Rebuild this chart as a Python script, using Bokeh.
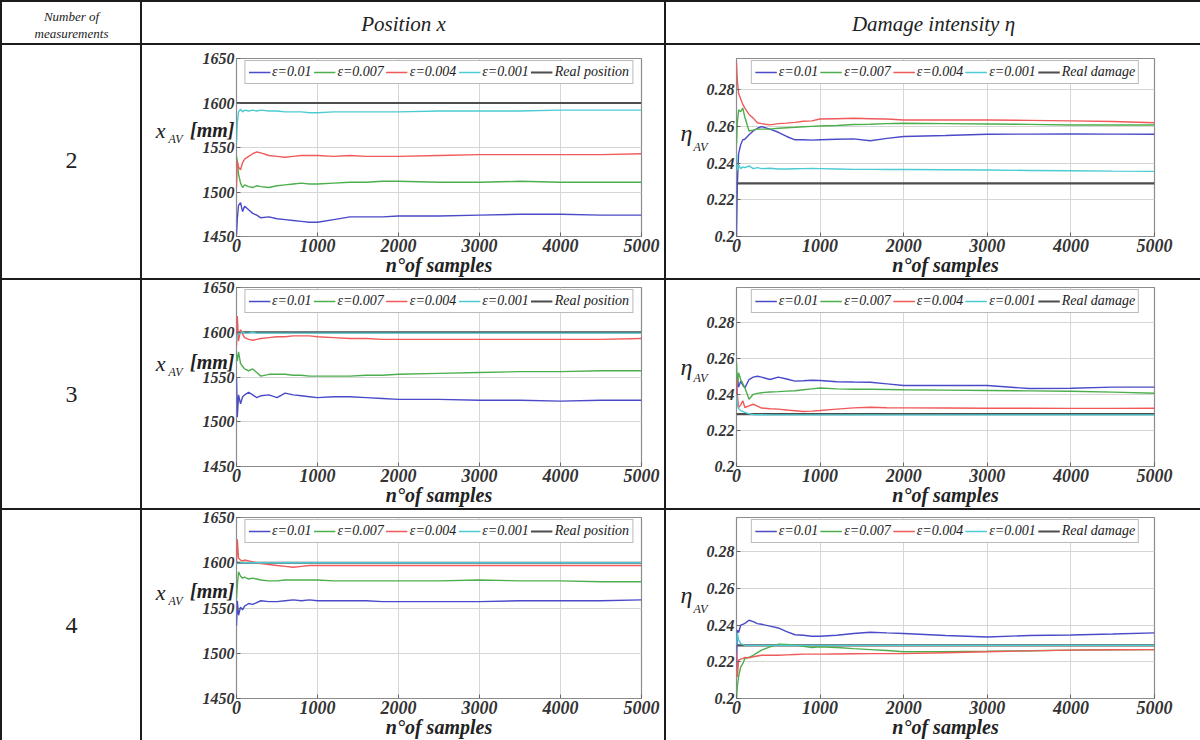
from bokeh.plotting import figure
from bokeh.layouts import row, column
from bokeh.models import (Range1d, FixedTicker, NumeralTickFormatter, LinearAxis,
                          Legend, LegendItem, Spacer)
from bokeh.core.properties import value
from bokeh.embed import file_html
from bokeh.resources import INLINE

# ---------------- data ----------------
SAMPLES = [0, 10, 25, 50, 75, 100, 150, 200, 250, 300, 400, 500, 600, 700, 800,
           900, 1000, 1200, 1400, 1600, 1800, 2000, 2500, 3000, 3500, 4000, 4500, 5000]
X_TICKS = [0, 1000, 2000, 3000, 4000, 5000]
POS_TICKS = [1450, 1500, 1550, 1600, 1650]
DMG_TICKS = [0.2, 0.22, 0.24, 0.26, 0.28]
EPS_LABELS = ["\u03b5=0.01", "\u03b5=0.007", "\u03b5=0.004", "\u03b5=0.001"]
MEASUREMENTS = ["2", "3", "4"]
HEADERS = ["Position x", "Damage intensity \u03b7"]
REAL_POSITION = 1600
REAL_DAMAGE = 0.229

# 2 measurements - position
POS2_E010 = [1452, 1470, 1485, 1488, 1478, 1484, 1480, 1476, 1474, 1471, 1472, 1470, 1469, 1468, 1467,
             1466, 1466, 1469, 1472, 1472, 1472, 1473, 1473, 1474, 1475, 1475, 1474, 1474]
POS2_E007 = [1540, 1535, 1520, 1510, 1505, 1508, 1506, 1505, 1507, 1506, 1505, 1507, 1508, 1509, 1510,
             1509, 1509, 1510, 1511, 1511, 1512, 1512, 1511, 1511, 1512, 1511, 1511, 1511]
POS2_E004 = [1505, 1535, 1528, 1525, 1533, 1537, 1540, 1543, 1545, 1544, 1541, 1540, 1539, 1540, 1541,
             1541, 1541, 1540, 1541, 1540, 1540, 1540, 1541, 1542, 1542, 1542, 1542, 1543]
POS2_E001 = [1555, 1578, 1590, 1593, 1590, 1592, 1591, 1592, 1591, 1592, 1591, 1591, 1590, 1590, 1590,
             1589, 1589, 1590, 1590, 1590, 1590, 1590, 1591, 1591, 1591, 1592, 1592, 1592]
# 2 measurements - damage
DMG2_E010 = [0.200, 0.228, 0.245, 0.250, 0.2527, 0.253, 0.2554, 0.2575, 0.259, 0.2599, 0.2585, 0.2568,
             0.2545, 0.2527, 0.2527, 0.2525, 0.2527, 0.2530, 0.2532, 0.2522, 0.2535, 0.2545, 0.2550,
             0.2557, 0.2558, 0.2559, 0.2558, 0.2557]
DMG2_E007 = [0.250, 0.262, 0.269, 0.268, 0.270, 0.265, 0.2575, 0.258, 0.2585, 0.2585, 0.2585, 0.259,
             0.2593, 0.2595, 0.2598, 0.2600, 0.2602, 0.2605, 0.2610, 0.2612, 0.2615, 0.2617, 0.2615,
             0.2613, 0.2611, 0.2608, 0.2608, 0.2608]
DMG2_E004 = [0.295, 0.285, 0.278, 0.275, 0.272, 0.270, 0.2665, 0.2645, 0.262, 0.2615, 0.2608, 0.2615,
             0.2618, 0.2622, 0.2628, 0.263, 0.264, 0.2642, 0.2644, 0.2642, 0.264, 0.2635, 0.2635,
             0.2635, 0.2633, 0.263, 0.2627, 0.262]
DMG2_E001 = [0.245, 0.236, 0.239, 0.237, 0.238, 0.2375, 0.2385, 0.237, 0.2375, 0.237, 0.2372, 0.2368,
             0.2368, 0.2369, 0.2370, 0.2371, 0.2370, 0.2368, 0.2366, 0.2366, 0.2365, 0.2365, 0.2364,
             0.2362, 0.2360, 0.2358, 0.2356, 0.2355]
# 3 measurements - position
POS3_E010 = [1550, 1505, 1530, 1520, 1528, 1530, 1533, 1530, 1527, 1529, 1530, 1527, 1532, 1530, 1529,
             1528, 1527, 1528, 1528, 1527, 1526, 1525, 1525, 1524, 1524, 1523, 1524, 1524]
POS3_E007 = [1575, 1568, 1578, 1565, 1562, 1559, 1557, 1559, 1555, 1551, 1553, 1553, 1553, 1552, 1552,
             1551, 1551, 1551, 1551, 1552, 1552, 1553, 1554, 1555, 1556, 1556, 1557, 1557]
POS3_E004 = [1585, 1618, 1590, 1603, 1598, 1594, 1592, 1591, 1592, 1593, 1594, 1595, 1595, 1596, 1596,
             1596, 1595, 1594, 1593, 1593, 1592, 1592, 1592, 1592, 1592, 1592, 1592, 1593]
POS3_E001 = [1590, 1596, 1598, 1599, 1600, 1599, 1599, 1600, 1599, 1599, 1599, 1599, 1599, 1599, 1599,
             1599, 1599, 1599, 1599, 1599, 1599, 1599, 1599, 1599, 1599, 1599, 1599, 1599]
# 3 measurements - damage
DMG3_E010 = [0.240, 0.250, 0.244, 0.2473, 0.245, 0.2436, 0.2482, 0.2495, 0.250, 0.2495, 0.2482, 0.2495,
             0.2485, 0.2473, 0.2475, 0.2478, 0.2477, 0.2470, 0.2468, 0.2467, 0.2458, 0.2449, 0.2449,
             0.2449, 0.2432, 0.2434, 0.2440, 0.2440]
DMG3_E007 = [0.258, 0.245, 0.252, 0.2482, 0.246, 0.2436, 0.2373, 0.240, 0.2405, 0.2409, 0.2413, 0.2415,
             0.2418, 0.242, 0.2425, 0.243, 0.2435, 0.243, 0.2428, 0.2428, 0.2427, 0.2425, 0.2423,
             0.2421, 0.2419, 0.2417, 0.2412, 0.2406]
DMG3_E004 = [0.249, 0.240, 0.2327, 0.234, 0.2364, 0.2327, 0.2336, 0.2345, 0.2335, 0.2324, 0.232, 0.2318,
             0.2313, 0.2309, 0.2305, 0.2307, 0.2310, 0.2318, 0.2325, 0.2328, 0.2326, 0.2325, 0.2324,
             0.2323, 0.2323, 0.2322, 0.2322, 0.2323]
DMG3_E001 = [0.240, 0.2345, 0.232, 0.231, 0.2305, 0.2300, 0.2292, 0.2288, 0.2287, 0.2287, 0.2286, 0.2286,
             0.2286, 0.2286, 0.2286, 0.2286, 0.2286, 0.2286, 0.2286, 0.2286, 0.2286, 0.2286, 0.2286,
             0.2286, 0.2286, 0.2286, 0.2286, 0.2286]
# 4 measurements - position
POS4_E010 = [1530, 1558, 1542, 1551, 1548, 1552, 1555, 1554, 1556, 1558, 1557, 1557, 1558, 1559, 1558,
             1559, 1558, 1558, 1558, 1558, 1557, 1557, 1557, 1557, 1558, 1558, 1558, 1559]
POS4_E007 = [1560, 1575, 1590, 1585, 1583, 1584, 1582, 1583, 1582, 1581, 1580, 1580, 1581, 1581, 1581,
             1581, 1581, 1580, 1580, 1580, 1580, 1580, 1580, 1581, 1580, 1580, 1579, 1579]
POS4_E004 = [1600, 1626, 1605, 1603, 1602, 1603, 1602, 1601, 1600, 1599, 1598, 1597, 1596, 1595, 1596,
             1597, 1597, 1597, 1597, 1597, 1597, 1597, 1597, 1597, 1597, 1597, 1597, 1597]
POS4_E001 = [1598, 1601, 1600, 1600, 1600, 1600, 1600, 1600, 1600, 1600, 1600, 1600, 1600, 1600, 1600,
             1600, 1600, 1600, 1600, 1600, 1600, 1600, 1600, 1600, 1600, 1600, 1600, 1600]
# 4 measurements - damage
DMG4_E010 = [0.217, 0.2373, 0.236, 0.240, 0.2405, 0.241, 0.2427, 0.242, 0.2409, 0.2405, 0.2395, 0.2385,
             0.2365, 0.2348, 0.2345, 0.234, 0.234, 0.2345, 0.2355, 0.2362, 0.2358, 0.2355, 0.2344,
             0.2336, 0.2344, 0.2347, 0.2352, 0.2358]
DMG4_E007 = [0.200, 0.2064, 0.212, 0.2173, 0.219, 0.2218, 0.2225, 0.2236, 0.225, 0.2264, 0.2282, 0.2296,
             0.2295, 0.2291, 0.2285, 0.2278, 0.2282, 0.2278, 0.2272, 0.2267, 0.2262, 0.2255, 0.2256,
             0.2258, 0.2261, 0.2264, 0.2266, 0.2267]
DMG4_E004 = [0.2255, 0.2118, 0.2209, 0.2215, 0.2218, 0.2224, 0.2222, 0.2228, 0.2232, 0.2236, 0.2236,
             0.2236, 0.2238, 0.224, 0.2242, 0.2242, 0.2242, 0.2243, 0.2244, 0.2245, 0.2245, 0.2245,
             0.225, 0.2255, 0.226, 0.2264, 0.2266, 0.2267]
DMG4_E001 = [0.229, 0.2358, 0.232, 0.230, 0.2295, 0.229, 0.229, 0.229, 0.229, 0.229, 0.229, 0.229,
             0.229, 0.229, 0.229, 0.229, 0.229, 0.229, 0.229, 0.229, 0.229, 0.229, 0.229, 0.229,
             0.229, 0.229, 0.229, 0.229]

# ---------------- style / layout ----------------
SERIF = "Liberation Serif"
COLORS = ["#4a4ac8", "#4cae4c", "#f05a5a", "#4ccbd3"]
REAL_COLOR = "#4d4d4d"
INK = "#222222"
BORDER = "#1c1c1c"
WHITE_BG = {"background-color": "white"}

COL_W = [138, 522, 534]
ROW_H = [41, 233, 228, 230]
ROW_TB = [(13, 40), (7, 42), (7, 42)]          # frame top / bottom border per row
POS_LR = (94, 23)
DMG_LR = (70, 46)
POS_RANGE = (1450, 1650)
DMG_RANGES = [(0.2, 0.297), (0.2, 0.2992), (0.2, 0.2988)]
# y-label anchor values (data units): x, AV, [mm]  /  eta, AV
POS_LABEL_Y = [(1569, 1560, 1570), (1565, 1556, 1567), (1567, 1558, 1569)]
DMG_LABEL_Y = [(0.2563, 0.249), (0.2553, 0.2489), (0.2563, 0.249)]


def text_cell(w, h, items, top=0, bottom=0):
    p = figure(width=w, height=h, x_range=Range1d(0, w), y_range=Range1d(h - bottom, top),
               toolbar_location=None, output_backend="svg",
               min_border_left=0, min_border_right=0,
               min_border_top=top, min_border_bottom=bottom,
               x_axis_type=None, y_axis_type=None, styles=WHITE_BG)
    p.outline_line_color = None
    p.border_fill_color = "white"
    p.background_fill_color = "white"
    for txt, x, y, size, style in items:
        p.text(x=[x], y=[y], text=[txt], text_font=value(SERIF), text_font_size=size,
               text_font_style=style, text_align="center", text_baseline="middle",
               text_color=INK)
    return p


def label_axis(p, y, text, size, style, standoff):
    ax = LinearAxis(ticker=FixedTicker(ticks=[y]), major_label_overrides={y: text})
    ax.axis_line_color = None
    ax.major_tick_line_color = None
    ax.minor_tick_line_color = None
    ax.major_tick_in = 0
    ax.major_tick_out = 0
    ax.major_label_standoff = standoff
    ax.major_label_text_font = SERIF
    ax.major_label_text_font_style = style
    ax.major_label_text_font_size = size
    ax.major_label_text_color = INK
    p.add_layout(ax, "left")


def chart_cell(w, h, kind, series, tb, yr, label_y):
    pos = kind == "pos"
    left, right = POS_LR if pos else DMG_LR
    top, bottom = tb
    p = figure(width=w, height=h, x_range=Range1d(SAMPLES[0], SAMPLES[-1]),
               y_range=Range1d(*yr), toolbar_location=None, output_backend="svg",
               min_border_left=left, min_border_right=right,
               min_border_top=top, min_border_bottom=bottom, styles=WHITE_BG)
    p.border_fill_color = "white"
    p.background_fill_color = "white"
    p.outline_line_color = "#8c8c8c"
    p.outline_line_width = 1.2

    yticks = POS_TICKS if pos else DMG_TICKS
    p.xaxis.ticker = FixedTicker(ticks=X_TICKS)
    p.yaxis.ticker = FixedTicker(ticks=yticks)
    if not pos:
        p.yaxis.formatter = NumeralTickFormatter(format="0.[00]")
    for ax in (p.xaxis[0], p.yaxis[0]):
        ax.major_label_text_font = SERIF
        ax.major_label_text_font_style = "bold italic"
        ax.major_label_text_color = "#333333"
        ax.axis_line_color = None
        ax.major_tick_in = 4
        ax.major_tick_out = 0
        ax.major_tick_line_color = "#666666"
        ax.minor_tick_line_color = None
        ax.major_label_standoff = 2
    p.xaxis.major_label_text_font_size = "18px"
    p.yaxis.major_label_text_font_size = "16px"
    p.xaxis.axis_label = "n\u00b0of samples"
    p.xaxis.axis_label_text_font = SERIF
    p.xaxis.axis_label_text_font_style = "bold italic"
    p.xaxis.axis_label_text_font_size = "20px"
    p.xaxis.axis_label_text_color = INK
    p.xaxis.axis_label_standoff = -1
    p.grid.grid_line_color = "#d6d6d6"
    p.grid.grid_line_width = 1

    real = REAL_POSITION if pos else REAL_DAMAGE
    rr = p.line([SAMPLES[0], SAMPLES[-1]], [real, real], line_color=REAL_COLOR, line_width=2.2)
    items = []
    for lab, ys, col in zip(EPS_LABELS, series, COLORS):
        r = p.line(SAMPLES, ys, line_color=col, line_width=1.4)
        items.append(LegendItem(label=lab, renderers=[r]))
    items.append(LegendItem(label="Real position" if pos else "Real damage", renderers=[rr]))
    leg = Legend(items=items, location="top_center", orientation="horizontal",
                 label_text_font=SERIF, label_text_font_style="italic",
                 label_text_font_size="14px", label_text_color=INK,
                 border_line_color="#777777", border_line_width=1.5,
                 background_fill_color="white", background_fill_alpha=1.0,
                 padding=3, spacing=2, margin=2, glyph_width=22, glyph_height=14,
                 label_standoff=2)
    p.add_layout(leg)

    if pos:
        y_x, y_av, y_mm = label_y
        label_axis(p, y_mm, "[mm]", "20px", "bold italic", -35)
        label_axis(p, y_av, "AV", "12px", "italic", 5)
        label_axis(p, y_x, "x", "22px", "italic", 0)
    else:
        y_eta, y_av = label_y
        label_axis(p, y_av, "AV", "12px", "italic", -4)
        label_axis(p, y_eta, "\u03b7", "24px", "italic", -2)
    return p


header = row(
    Spacer(width=0, height=ROW_H[0]),
    text_cell(COL_W[0], ROW_H[0], [("Number of", COL_W[0] / 2, 14, "13px", "italic"),
                                   ("measurements", COL_W[0] / 2, 31, "13px", "italic")]),
    text_cell(COL_W[1], ROW_H[0], [(HEADERS[0], COL_W[1] / 2, 21, "21px", "italic")]),
    text_cell(COL_W[2], ROW_H[0], [(HEADERS[1], COL_W[2] / 2, 21, "21px", "italic")]),
    spacing=2,
)

pos_series = [[POS2_E010, POS2_E007, POS2_E004, POS2_E001],
              [POS3_E010, POS3_E007, POS3_E004, POS3_E001],
              [POS4_E010, POS4_E007, POS4_E004, POS4_E001]]
dmg_series = [[DMG2_E010, DMG2_E007, DMG2_E004, DMG2_E001],
              [DMG3_E010, DMG3_E007, DMG3_E004, DMG3_E001],
              [DMG4_E010, DMG4_E007, DMG4_E004, DMG4_E001]]

rows = [header]
for i in range(3):
    h = ROW_H[i + 1]
    top, bottom = ROW_TB[i]
    rows.append(row(
        Spacer(width=0, height=h),
        text_cell(COL_W[0], h, [(MEASUREMENTS[i], COL_W[0] / 2, h / 2, "24px", "normal")],
                  top=top, bottom=bottom),
        chart_cell(COL_W[1], h, "pos", pos_series[i], ROW_TB[i], POS_RANGE, POS_LABEL_Y[i]),
        chart_cell(COL_W[2], h, "dmg", dmg_series[i], ROW_TB[i], DMG_RANGES[i], DMG_LABEL_Y[i]),
        spacing=2,
    ))

layout = column(Spacer(width=1200, height=0), *rows, spacing=2,
                styles={"background-color": BORDER})

open("out.html", "w").write(file_html(layout, INLINE))
